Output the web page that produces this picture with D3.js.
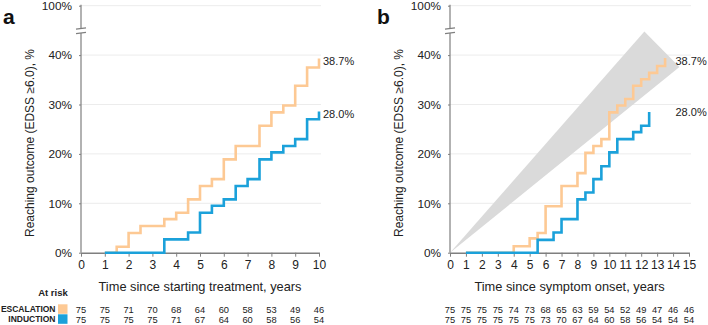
<!DOCTYPE html>
<html><head><meta charset="utf-8">
<script src="https://cdn.jsdelivr.net/npm/d3@7"></script>
<style>
html,body{margin:0;padding:0;background:#fff;}
svg{display:block;font-family:"Liberation Sans",Arial,sans-serif;}
</style></head>
<body><svg id="c" width="708" height="325"></svg>
<script>
// ---- DATA ----
const yTicks = [0, 10, 20, 30, 40, 100];
const yTickLabels = ["0%", "10%", "20%", "30%", "40%", "100%"];
const groups = ["ESCALATION", "INDUCTION"];

// Panel a: time since starting treatment
const aXTicks = [0,1,2,3,4,5,6,7,8,9,10];
const aEscTimes = [1,1.5,2,2.5,3.5,4,4.5,5,5.5,6,6.5,7.5,8,8.5,9,9.5,10];
const aEscVals  = [0,1.2,4.0,5.4,6.8,8.1,10.8,13.5,14.9,18.9,21.6,25.7,28.4,29.8,33.8,37.5,39.3];
const aIndTimes = [1,3.5,4.5,5,5.5,6,6.5,7,7.5,8,8.5,9,9.5,10];
const aIndVals  = [0,2.7,4.1,8.1,9.5,10.8,13.5,14.9,18.9,20.3,21.6,23.0,27.0,28.6];
const aEscRisk = [75,75,71,70,68,64,60,58,53,49,46];
const aIndRisk = [75,75,75,75,71,67,64,60,58,56,54];
const aEndLabels = ["38.7%", "28.0%"];

// Panel b: time since symptom onset
const bXTicks = [0,1,2,3,4,5,6,7,8,9,10,11,12,13,14,15];
const bEscTimes = [1,4,5,5.5,6,7,8,8.5,9,9.5,10,10.5,11,11.5,12,12.5,13,13.5];
const bEscVals  = [0,1.3,2.9,4.0,9.4,13.5,16.1,20.2,21.6,23.0,28.4,29.8,31.1,33.8,35.1,36.4,37.8,39.4];
const bIndTimes = [1,5.5,6.5,7,8,8.5,9,9.5,10,10.5,11.5,12,12.5];
const bIndVals  = [0,2.6,4.1,6.8,10.8,12.2,14.9,17.5,20.3,23.0,24.4,25.7,28.5];
const bEscRisk = [75,75,75,75,74,73,68,65,63,59,54,52,49,47,46,46];
const bIndRisk = [75,75,75,75,75,75,73,70,67,64,60,58,56,54,54,54];
const bEndLabels = ["38.7%", "28.0%"];
// grey reference band (time, %)
const bandPts = [[0,0],[12.2,44.8],[14.4,37.6]];

// ---- STYLE ----
const escColor = "#fdc994";
const indColor = "#1ba1da";
const axisColor = "#7f7f7f";
const gridColor = "#ececec";
const textColor = "#222";

const svg = d3.select("#c");

function panel(cfg){
  const x = d3.scaleLinear().domain([0, cfg.xMax]).range([cfg.x0, cfg.x1]);
  const y = d3.scaleLinear().domain([0, 45, 100]).range([252.7, 30.4, 5.7]);
  const g = svg.append("g");

  // gridlines
  g.selectAll("line.grid").data(yTicks.filter(d=>d>0)).enter().append("line")
    .attr("x1", cfg.x0).attr("x2", cfg.x1 + 2)
    .attr("y1", d=>y(d)).attr("y2", d=>y(d))
    .attr("stroke", gridColor).attr("stroke-width", 1);

  // band
  if (cfg.band){
    g.append("path")
      .attr("d", d3.line().x(d=>x(d[0])).y(d=>y(d[1]))(cfg.band) + "Z")
      .attr("fill", "#dadada");
  }

  // y axis (broken)
  const yAxis = d3.axisLeft(y).tickValues(yTicks).tickFormat((d,i)=>yTickLabels[i]).tickSize(2).tickPadding(7);
  const ya = g.append("g").attr("transform", `translate(${cfg.x0},0)`).call(yAxis);
  ya.select(".domain").remove();
  ya.selectAll("line").attr("stroke", axisColor);
  ya.selectAll("text").attr("font-size", 11.8).attr("fill", textColor)
    .attr("font-family", "Liberation Sans, Arial, sans-serif");
  g.append("line").attr("x1", cfg.x0).attr("x2", cfg.x0).attr("y1", y(100)-1).attr("y2", 28.5)
    .attr("stroke", axisColor).attr("stroke-width", 1.2);
  g.append("line").attr("x1", cfg.x0).attr("x2", cfg.x0).attr("y1", 33).attr("y2", y(0))
    .attr("stroke", axisColor).attr("stroke-width", 1.2);
  [28.5, 33].forEach(yy=>{
    g.append("line").attr("x1", cfg.x0-5).attr("x2", cfg.x0+5).attr("y1", yy+0.6).attr("y2", yy-0.6)
      .attr("stroke", axisColor).attr("stroke-width", 1.2);
  });

  // x axis
  const xAxis = d3.axisBottom(x).tickValues(cfg.xTicks).tickFormat(d3.format("d")).tickSize(4).tickPadding(4).tickSizeOuter(0);
  const xa = g.append("g").attr("transform", `translate(0,${y(0)})`).call(xAxis);
  xa.select(".domain").attr("stroke", axisColor).attr("stroke-width", 1.5);
  xa.selectAll("line").attr("stroke", axisColor);
  xa.selectAll("text").attr("font-size", 12).attr("fill", textColor)
    .attr("font-family", "Liberation Sans, Arial, sans-serif");

  // step lines
  const line = d3.line().x(d=>x(d[0])).y(d=>y(d[1])).curve(d3.curveStepAfter);
  const series = [
    {t: cfg.escT, v: cfg.escV, c: escColor},
    {t: cfg.indT, v: cfg.indV, c: indColor}
  ];
  series.forEach(s=>{
    g.append("path").datum(s.t.map((t,i)=>[t, s.v[i]]))
      .attr("d", line).attr("fill", "none").attr("stroke", s.c).attr("stroke-width", 2.6);
  });

  // end labels
  g.append("text").attr("x", cfg.lblX).attr("y", 61).attr("dy", "0.35em")
    .attr("font-size", 11).attr("fill", textColor).text(cfg.endLabels[0]);
  g.append("text").attr("x", cfg.lblX).attr("y", cfg.lbl2Y).attr("dy", "0.35em")
    .attr("font-size", 11).attr("fill", textColor).text(cfg.endLabels[1]);

  // panel letter
  g.append("text").attr("x", cfg.letterX).attr("y", 24).attr("font-size", 21)
    .attr("font-weight", "bold").attr("fill", "#111").text(cfg.letter);

  // y title
  g.append("text").attr("transform", `translate(${cfg.yTitleX},143) rotate(-90)`)
    .attr("text-anchor", "middle").attr("dy", "0.35em").attr("font-size", 12).attr("fill", textColor)
    .text("Reaching outcome (EDSS \u22656.0), %");

  // x title
  g.append("text").attr("x", (cfg.x0+cfg.x1)/2).attr("y", 287).attr("dy", "0.35em")
    .attr("text-anchor", "middle").attr("font-size", 12.8).attr("fill", textColor).text(cfg.xTitle);

  // at risk numbers
  [cfg.escRisk, cfg.indRisk].forEach((arr, r)=>{
    g.selectAll(null).data(arr).enter().append("text")
      .attr("x", (d,i)=>x(cfg.xTicks[i])).attr("y", 309.3 + r*10).attr("dy", "0.35em")
      .attr("text-anchor", "middle").attr("font-size", 9.3).attr("fill", textColor).text(d=>d);
  });
}

panel({x0:81, x1:319, xMax:10, xTicks:aXTicks, escT:aEscTimes, escV:aEscVals, indT:aIndTimes, indV:aIndVals,
  escRisk:aEscRisk, indRisk:aIndRisk, endLabels:aEndLabels, lblX:323, lbl2Y:114, letter:"a", letterX:3,
  yTitleX:30, xTitle:"Time since starting treatment, years"});
panel({x0:450, x1:689, xMax:15, xTicks:bXTicks, escT:bEscTimes, escV:bEscVals, indT:bIndTimes, indV:bIndVals,
  escRisk:bEscRisk, indRisk:bIndRisk, endLabels:bEndLabels, lblX:675.5, lbl2Y:112, letter:"b", letterX:377,
  yTitleX:399, xTitle:"Time since symptom onset, years", band:bandPts});

// at-risk legend
svg.append("text").attr("x", 53).attr("y", 293).attr("dy", "0.35em").attr("text-anchor", "middle")
  .attr("font-size", 9.5).attr("font-weight", "bold").attr("fill", textColor).text("At risk");
const legColors = [escColor, indColor];
groups.forEach((gname, i)=>{
  svg.append("text").attr("x", 55.5).attr("y", 309.3 + i*10).attr("dy", "0.35em").attr("text-anchor", "end")
    .attr("font-size", 8.5).attr("font-weight", "bold").attr("fill", textColor).text(gname);
  svg.append("rect").attr("x", 58).attr("y", 304.3 + i*10).attr("width", 9.5).attr("height", 9.5)
    .attr("fill", legColors[i]);
});
</script></body></html>
